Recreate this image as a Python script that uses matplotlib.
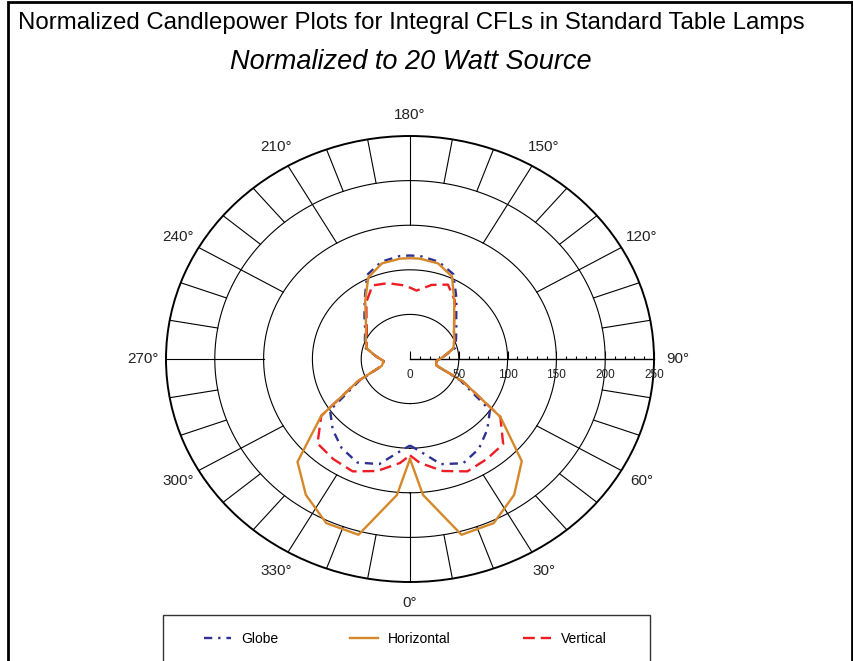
import numpy as np
import matplotlib
matplotlib.use('Agg')
import matplotlib.pyplot as plt
from matplotlib.patches import Rectangle

plt.rcParams['font.family'] = ['Liberation Sans', 'DejaVu Sans']

# candlepower values (angle in degrees, 0 = straight down)
angles = [0, 5, 15, 25, 35, 45, 55, 65, 75, 85, 95, 105, 115, 125, 135, 145, 155, 165, 175, 180,
          185, 195, 205, 215, 225, 235, 245, 255, 265, 275, 285, 295, 305, 315, 325, 335, 345, 355, 360]
globe = [97, 103, 122, 129, 123, 112, 100, 57, 28, 27, 35, 48, 52, 58, 67, 83, 105, 113, 116, 116,
         116, 113, 104, 81, 66, 56, 51, 47, 35, 27, 30, 57, 100, 112, 122, 128, 122, 103, 97]
horizontal = [112, 153, 204, 203, 186, 162, 113, 60, 28, 27, 35, 46, 50, 55, 64, 79, 102, 111, 113, 113,
              113, 111, 101, 80, 64, 55, 50, 46, 35, 27, 30, 59, 111, 163, 186, 203, 204, 153, 112]
vertical = [108, 117, 130, 139, 137, 135, 113, 60, 28, 27, 35, 46, 50, 55, 64, 80, 92, 86, 77, 80,
            83, 88, 91, 78, 63, 54, 49, 46, 35, 27, 30, 59, 111, 134, 137, 139, 130, 117, 108]

ring_values = [50, 100, 150, 200]
angle_labels = list(range(0, 360, 30))
radial_labels = [0, 50, 100, 150, 200, 250]

W, H = 854, 661
fig = plt.figure(figsize=(W / 100, H / 100), dpi=100)

# elliptical polar area, centre and radii in pixels
cx, cy = 410, 359
rx, ry = 244, 223
ax = fig.add_axes([(cx - rx) / W, (H - cy - ry) / H, 2 * rx / W, 2 * ry / H], projection='polar')
ax.set_aspect('auto')
ax.set_theta_zero_location('S')
ax.set_theta_direction(1)
ax.set_ylim(0, 250)
ax.grid(False)
ax.set_xticks([])
ax.set_yticks([])
ax.spines['polar'].set_linewidth(1.4)

# rings
t = np.linspace(0, 2 * np.pi, 400)
for r in ring_values:
    ax.plot(t, np.full_like(t, r), color='black', lw=0.8)

# spokes
for a in range(0, 360, 10):
    if a == 90:
        continue
    r0 = 150 if a % 30 == 0 else 200
    ax.plot([np.deg2rad(a)] * 2, [r0, 250], color='black', lw=0.8)
ax.plot([np.pi / 2] * 2, [0, 250], color='black', lw=1.0, clip_on=False)

# radial scale ticks along 90
minor = [v for v in range(10, 250, 10) if v % 50]
ax.plot(np.full(len(minor), np.pi / 2), minor, ls='none', marker=2, ms=2.5, mew=0.8,
        color='black', clip_on=False)
ax.plot(np.full(len(radial_labels), np.pi / 2), radial_labels, ls='none', marker=2, ms=5.5,
        mew=0.8, color='black', clip_on=False)
for v in radial_labels:
    ax.annotate(str(v), (np.pi / 2, v), xytext=(0, -11.5), textcoords='offset points',
                ha='center', va='center', fontsize=8.5, color='#222222')

for a in angle_labels:
    ax.text(np.deg2rad(a), 274, f'{a}\u00b0', ha='center', va='center', fontsize=11,
            color='#222222', clip_on=False)

th = np.deg2rad(angles)
l_globe, = ax.plot(th, globe, color='#2e3192', lw=1.7, ls=(0, (3.5, 2.5, 1, 2.5)), label='Globe')
l_vert, = ax.plot(th, vertical, color='#ee1c24', lw=1.7, ls=(0, (5, 2.5)), label='Vertical')
l_horz, = ax.plot(th, horizontal, color='#d4882a', lw=1.7, label='Horizontal')

fig.legend([l_globe, l_horz, l_vert], ['Globe', 'Horizontal', 'Vertical'], ncol=3,
           frameon=False, loc='center', bbox_to_anchor=(405 / W, (H - 639) / H),
           columnspacing=5.2, handlelength=2.0, handletextpad=0.7, fontsize=10)
fig.add_artist(Rectangle((163 / W, (H - 690) / H), (650 - 163) / W, (690 - 615) / H,
                         transform=fig.transFigure, fill=False, lw=1.0, ec='#333333', clip_on=False))

# outer frame
fig.add_artist(Rectangle((8 / W, -0.1), (852 - 8) / W, (H - 2) / H + 0.1,
                         transform=fig.transFigure, fill=False, lw=2.0, ec='black', clip_on=False))

fig.text(18 / W, 1 - 23 / H, 'Normalized Candlepower Plots for Integral CFLs in Standard Table Lamps',
         ha='left', va='center', fontsize=17.3)
fig.text(411 / W, 1 - 62 / H, 'Normalized to 20 Watt Source', ha='center', va='center',
         fontsize=19.5, style='italic')

fig.savefig('out.png', dpi=100)
